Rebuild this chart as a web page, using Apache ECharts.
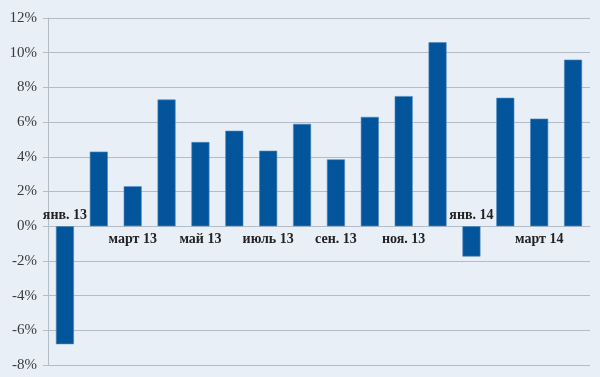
<!DOCTYPE html>
<html>
<head>
<meta charset="utf-8">
<script src="https://cdn.jsdelivr.net/npm/echarts@6/dist/echarts.min.js"></script>
<style>
  html, body { margin: 0; padding: 0; background: #e8eff7; }
  #chart { width: 600px; height: 377px; }
</style>
</head>
<body>
<div id="chart"></div>
<script>
var months = ['янв. 13', 'февр. 13', 'март 13', 'апр. 13', 'май 13', 'июнь 13', 'июль 13', 'авг. 13',
  'сен. 13', 'окт. 13', 'ноя. 13', 'дек. 13', 'янв. 14', 'февр. 14', 'март 14', 'апр. 14'];
var growth = [-6.8, 4.3, 2.3, 7.3, 4.85, 5.5, 4.35, 5.9, 3.85, 6.3, 7.5, 10.6, -1.75, 7.4, 6.2, 9.6];
var yMin = -8, yMax = 12, yStep = 2;

var gridColor = '#b4bcc6';
var serif = '"Liberation Serif", "DejaVu Serif", serif';
var gridTop = 18, gridBottom = 12, chartH = 377;

// ось категорий проходит через 0% (onZero тут не срабатывает, поэтому сдвигаем сами)
var plotH = chartH - gridTop - gridBottom;
var zeroOffset = -plotH * (0 - yMin) / (yMax - yMin);

// январские подписи стоят над осью, у отрицательных столбиков
var barData = growth.map(function (v, i) {
  if (i === 0 || i === 12) {
    return {
      value: v,
      label: {show: true, position: 'top', distance: 4, formatter: months[i]}
    };
  }
  return v;
});

var chart = echarts.init(document.getElementById('chart'));
chart.setOption({
  backgroundColor: '#e8eff7',
  animation: false,
  grid: {left: 48, right: 10, top: gridTop, bottom: gridBottom, outerBoundsMode: 'none', containLabel: false},
  xAxis: {
    type: 'category',
    data: months,
    offset: zeroOffset,
    axisLine: {onZero: false, lineStyle: {color: gridColor, width: 1}},
    axisTick: {interval: 1, length: 5, lineStyle: {color: gridColor}},
    axisLabel: {
      interval: function (i) { return i % 2 === 0 && i !== 0 && i !== 12; },
      margin: 6,
      fontFamily: serif,
      fontWeight: 'bold',
      fontSize: 14,
      color: '#222'
    }
  },
  yAxis: {
    type: 'value',
    min: yMin, max: yMax, interval: yStep,
    axisLine: {show: true, lineStyle: {color: gridColor}},
    axisTick: {show: true, length: 5, lineStyle: {color: gridColor}},
    splitLine: {lineStyle: {color: gridColor, width: 1}},
    axisLabel: {
      formatter: '{value}%',
      margin: 11,
      fontFamily: serif,
      fontSize: 15,
      color: '#3a3a3a'
    }
  },
  series: [{
    type: 'bar',
    data: barData,
    barWidth: 18,
    itemStyle: {color: '#02559a', borderColor: '#4f87bd', borderWidth: 0.6},
    label: {
      fontFamily: serif,
      fontWeight: 'bold',
      fontSize: 14,
      color: '#222'
    }
  }]
});
</script>
</body>
</html>
